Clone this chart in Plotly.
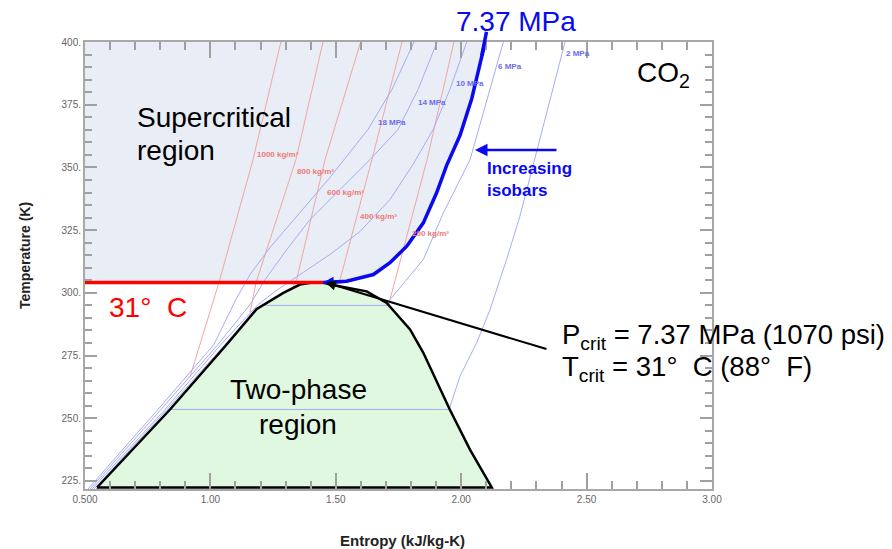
import plotly.graph_objects as go

# ---------------- axes ----------------
X_RANGE = [0.5, 3.0]
T_RANGE = [221.8, 400.0]
x_tickvals = [0.5, 1.0, 1.5, 2.0, 2.5, 3.0]
x_ticktext = ["0.500", "1.00", "1.50", "2.00", "2.50", "3.00"]
y_tickvals = [225, 250, 275, 300, 325, 350, 375, 400]
y_ticktext = ["225.", "250.", "275.", "300.", "325.", "350.", "375.", "400."]

# ---------------- critical point ----------------
s_crit = 1.45
T_crit = 304.1

# ---------------- saturation dome ----------------
dome_liq_s = [0.548, 0.839, 1.065, 1.185, 1.291, 1.357, 1.40, 1.45]
dome_liq_T = [222.4, 253.5, 279.4, 293.6, 300.0, 303.3, 304.0, 304.1]
dome_vap_s = [1.45, 1.477, 1.623, 1.703, 1.796, 1.849, 1.955, 2.035, 2.122]
dome_vap_T = [304.1, 303.3, 300.6, 296.0, 285.4, 276.1, 253.4, 237.5, 222.4]

# ---------------- critical isobar 7.37 MPa ----------------
p737_s = [2.102, 2.082, 2.042, 1.995, 1.942, 1.902, 1.849, 1.783, 1.716, 1.650, 1.543, 1.45]
p737_T = [402.6, 394.6, 377.4, 362.7, 350.8, 339.9, 327.9, 318.6, 312.0, 307.3, 304.6, 304.1]

# ---------------- other isobars ----------------
isobar_names = ["2 MPa", "6 MPa", "10 MPa", "14 MPa", "18 MPa"]
p2_s = [2.414, 2.301, 2.234, 2.181, 2.115, 2.062, 1.995, 1.952, 0.835, 0.544]
p2_T = [400.0, 357.1, 330.5, 313.3, 293.3, 280.2, 266.7, 253.5, 253.5, 221.8]
p6_s = [2.168, 2.103, 2.035, 1.929, 1.849, 1.716, 1.712, 1.208, 1.180, 1.058, 0.827, 0.536]
p6_T = [400.0, 377.1, 353.0, 331.9, 313.3, 297.3, 295.0, 295.0, 293.6, 279.4, 253.5, 221.8]
p10_s = [2.022, 1.955, 1.888, 1.808, 1.716, 1.596, 1.477, 1.357, 1.258, 1.190, 1.042, 0.819, 0.528]
p10_T = [400.0, 381.1, 365.1, 351.2, 337.2, 324.4, 315.3, 307.3, 300.6, 295.3, 279.4, 253.5, 221.8]
p14_s = [1.904, 1.828, 1.748, 1.636, 1.517, 1.397, 1.305, 1.218, 1.158, 1.030, 0.803, 0.520]
p14_T = [400.0, 381.1, 365.1, 353.1, 341.2, 329.2, 317.3, 305.3, 295.3, 279.4, 253.5, 221.8]
p18_s = [1.812, 1.724, 1.628, 1.477, 1.357, 1.238, 1.158, 1.102, 1.014, 0.791, 0.512]
p18_T = [400.0, 381.1, 365.1, 346.0, 332.0, 318.1, 307.3, 297.4, 279.4, 253.5, 221.8]
isobar_s = [p2_s, p6_s, p10_s, p14_s, p18_s]
isobar_T = [p2_T, p6_T, p10_T, p14_T, p18_T]
isobar_label_s = [2.466, 2.195, 2.035, 1.884, 1.724]
isobar_label_T = [395.4, 390.1, 383.5, 376.0, 368.0]

# ---------------- isochores ----------------
isochore_names = ["1000 kg/m³", "800 kg/m³", "600 kg/m³", "400 kg/m³", "200 kg/m³"]
r1000_s = [1.281, 1.170, 1.034, 0.918]
r1000_T = [400.0, 353.1, 304.1, 266.3]
r800_s = [1.449, 1.341, 1.182, 1.158]
r800_T = [400.0, 353.1, 304.1, 292.1]
r600_s = [1.599, 1.457, 1.344, 1.321]
r600_T = [400.0, 353.1, 305.3, 300.9]
r400_s = [1.764, 1.644, 1.517, 1.501]
r400_T = [400.0, 353.1, 305.3, 302.9]
r200_s = [1.971, 1.864, 1.716, 1.708]
r200_T = [400.0, 353.1, 297.3, 295.5]
isochore_s = [r1000_s, r800_s, r600_s, r400_s, r200_s]
isochore_T = [r1000_T, r800_T, r600_T, r400_T, r200_T]
isochore_label_s = [1.270, 1.421, 1.537, 1.669, 1.876]
isochore_label_T = [355.1, 348.4, 339.9, 330.5, 323.5]

# ---------------- annotation anchors ----------------
note_tail_s, note_tail_T = 2.346, 277.4
incr_tail_s, incr_head_s, incr_T = 2.386, 2.055, 356.9

FONT = "Liberation Sans, Arial, sans-serif"
ISOBAR_COLOR = "#a6acf6"
ISOCHORE_COLOR = "#f4a3a3"
BLUE = "#0a0af0"

fig = go.Figure()

# supercritical region fill
fig.add_trace(go.Scatter(
    x=[X_RANGE[0]] + p737_s[::-1] + [X_RANGE[0]],
    y=[T_crit] + p737_T[::-1] + [p737_T[0]],
    fill="toself", fillcolor="#e9edf5", line=dict(width=0),
    mode="lines", hoverinfo="skip", showlegend=False))

# two-phase fill
fig.add_trace(go.Scatter(
    x=dome_liq_s + dome_vap_s[1:],
    y=dome_liq_T + dome_vap_T[1:],
    fill="toself", fillcolor="#e0f8e0", line=dict(width=0),
    mode="lines", hoverinfo="skip", showlegend=False))

# isochores
for s, T in zip(isochore_s, isochore_T):
    fig.add_trace(go.Scatter(x=s, y=T, mode="lines",
                             line=dict(color=ISOCHORE_COLOR, width=1),
                             hoverinfo="skip", showlegend=False))
# isobars
for s, T in zip(isobar_s, isobar_T):
    fig.add_trace(go.Scatter(x=s, y=T, mode="lines",
                             line=dict(color=ISOBAR_COLOR, width=1),
                             hoverinfo="skip", showlegend=False))

# dome outline
fig.add_trace(go.Scatter(
    x=dome_liq_s + dome_vap_s[1:] + [dome_liq_s[0]],
    y=dome_liq_T + dome_vap_T[1:] + [dome_liq_T[0]],
    mode="lines", line=dict(color="black", width=2.5),
    hoverinfo="skip", showlegend=False))

# 31 C line
fig.add_trace(go.Scatter(x=[X_RANGE[0], s_crit], y=[T_crit, T_crit], mode="lines",
                         line=dict(color="#ff0000", width=3.5),
                         hoverinfo="skip", showlegend=False))
# critical isobar
fig.add_trace(go.Scatter(x=p737_s, y=p737_T, mode="lines",
                         line=dict(color=BLUE, width=3.5),
                         hoverinfo="skip", showlegend=False))

ann = []
for name, s, T in zip(isochore_names, isochore_label_s, isochore_label_T):
    ann.append(dict(x=s, y=T, text="<b>%s</b>" % name, showarrow=False,
                    font=dict(family=FONT, size=8, color="#f07a7a")))
for name, s, T in zip(isobar_names, isobar_label_s, isobar_label_T):
    ann.append(dict(x=s, y=T, text="<b>%s</b>" % name, showarrow=False,
                    font=dict(family=FONT, size=8, color="#6c6cf0")))

# critical isobar top extension and arrowhead
ann.append(dict(x=p737_s[1], y=p737_T[1], ax=p737_s[0], ay=p737_T[0] + 2,
                axref="x", ayref="y", text="", showarrow=True, arrowhead=0,
                arrowwidth=3.5, arrowcolor=BLUE))
ann.append(dict(x=s_crit, y=T_crit, ax=p737_s[-2], ay=p737_T[-2],
                axref="x", ayref="y", text="", showarrow=True, arrowhead=2,
                arrowsize=0.7, arrowwidth=3, arrowcolor=BLUE))
# black pointer
ann.append(dict(x=s_crit + 0.01, y=T_crit, ax=note_tail_s, ay=note_tail_T,
                axref="x", ayref="y", text="", showarrow=True, arrowhead=2,
                arrowsize=1, arrowwidth=2, arrowcolor="black"))
# increasing isobars arrow
ann.append(dict(x=incr_head_s, y=incr_T, ax=incr_tail_s, ay=incr_T,
                axref="x", ayref="y", text="", showarrow=True, arrowhead=2,
                arrowsize=1, arrowwidth=2.5, arrowcolor=BLUE))
ann.append(dict(x=2.095, y=345.0, text="<b>Increasing<br>isobars</b>",
                showarrow=False, xanchor="left", yanchor="middle", align="left",
                font=dict(family=FONT, size=17, color=BLUE)))

big = dict(family=FONT, size=28, color="black")
ann.append(dict(x=0.700, y=370.0, text="Supercritical", showarrow=False,
                xanchor="left", yanchor="middle", font=big))
ann.append(dict(x=0.700, y=356.7, text="region", showarrow=False,
                xanchor="left", yanchor="middle", font=big))
ann.append(dict(x=1.351, y=261.4, text="Two-phase", showarrow=False,
                yanchor="middle", font=big))
ann.append(dict(x=1.351, y=247.5, text="region", showarrow=False,
                yanchor="middle", font=big))
ann.append(dict(x=0.587, y=294.0, text="31°\u00a0\u00a0C", showarrow=False,
                xanchor="left", yanchor="middle",
                font=dict(family=FONT, size=28, color="#ff0000")))
ann.append(dict(x=2.218, yref="paper", y=1.045, text="7.37 MPa", showarrow=False,
                xanchor="center", yanchor="middle",
                font=dict(family=FONT, size=28, color=BLUE)))
ann.append(dict(x=2.693, y=387.2, text="CO<sub>2</sub>", showarrow=False,
                xanchor="left", yanchor="middle", font=big))
crit_font = dict(family=FONT, size=27.5, color="black")
ann.append(dict(x=2.394, y=282.6, text="P<sub>crit</sub> = 7.37 MPa (1070 psi)",
                showarrow=False, xanchor="left", yanchor="middle", font=crit_font))
ann.append(dict(x=2.394, y=270.0, text="T<sub>crit</sub> = 31°\u00a0\u00a0C (88°\u00a0\u00a0F)",
                showarrow=False, xanchor="left", yanchor="middle", font=crit_font))

# axis titles
ann.append(dict(xref="paper", yref="paper", x=-0.0957, y=0.5235, text="<b>Temperature (K)</b>",
                textangle=-90, showarrow=False, xanchor="center", yanchor="middle",
                font=dict(family=FONT, size=14, color="#222")))
ann.append(dict(xref="paper", yref="paper", x=0.507, y=-0.1163, text="<b>Entropy (kJ/kg-K)</b>",
                showarrow=False, xanchor="center", yanchor="middle",
                font=dict(family=FONT, size=15, color="#222")))

axis_common = dict(showgrid=False, zeroline=False, showline=True, linecolor="#a8a8a8",
                   linewidth=2, mirror="allticks", ticks="inside", tickcolor="#a0a0a0",
                   tickwidth=1.5, tickfont=dict(family=FONT, size=10, color="#666"))

# the page body has an 8 px default margin, so the figure is 8 px smaller
fig.update_layout(
    width=884, height=541, autosize=False,
    margin=dict(l=77, r=180, t=34, b=60),
    paper_bgcolor="white", plot_bgcolor="white",
    showlegend=False, annotations=ann,
    xaxis=dict(range=X_RANGE, tickvals=x_tickvals, ticktext=x_ticktext, ticklen=16,
               minor=dict(ticks="inside", ticklen=8, dtick=0.1, tick0=0.5,
                          tickcolor="#a0a0a0", tickwidth=1.5),
               **axis_common),
    yaxis=dict(range=T_RANGE, tickvals=y_tickvals, ticktext=y_ticktext, ticklen=12,
               minor=dict(ticks="inside", ticklen=7, dtick=5, tick0=225,
                          tickcolor="#a0a0a0", tickwidth=1.5),
               **axis_common),
)

fig.write_html("out.html")
